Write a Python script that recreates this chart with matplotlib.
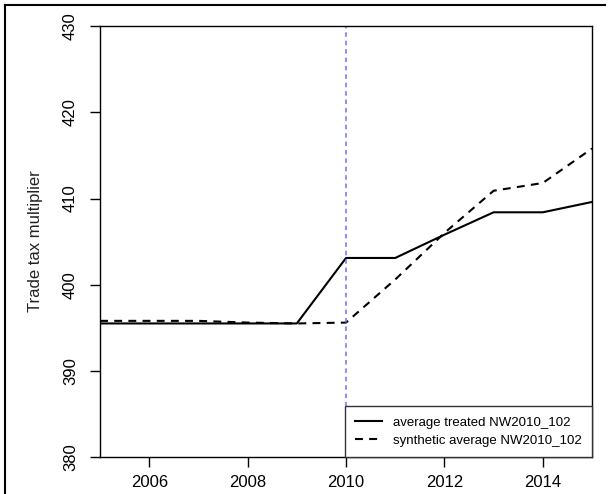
import matplotlib.pyplot as plt
from matplotlib.lines import Line2D

plt.rcParams['font.family'] = ['Liberation Sans', 'DejaVu Sans']

years = [2005, 2006, 2007, 2008, 2009, 2010, 2011, 2012, 2013, 2014, 2015]
treated = [395.5, 395.5, 395.5, 395.5, 395.5, 403.1, 403.1, 405.8, 408.4, 408.4, 409.6]
synthetic = [395.8, 395.8, 395.8, 395.6, 395.5, 395.6, 400.6, 406.0, 410.9, 411.8, 415.8]
treat_year = 2010

fig = plt.figure(figsize=(6.1, 4.94), dpi=100)
ax = fig.add_axes([0.164, 0.0749, 0.8065, 0.8721])

ax.plot(years, treated, color='black', lw=1.5, label='average treated NW2010_102')
ax.plot(years, synthetic, color='black', lw=1.5, dashes=(3.8, 3),
        label='synthetic average NW2010_102')
ax.axvline(treat_year, color='#6f6fff', lw=1.1, dashes=(3, 2.5))

ax.set_xlim(2005, 2015)
ax.set_ylim(380, 430)
ax.set_xticks([2006, 2008, 2010, 2012, 2014])
ax.set_yticks([380, 390, 400, 410, 420, 430])
for s in ax.spines.values():
    s.set_linewidth(1.0)
ax.tick_params(axis='both', direction='out', length=7, width=1, labelsize=12)
ax.tick_params(axis='x', pad=6)
ax.tick_params(axis='y', pad=9)
for lab in ax.get_yticklabels():
    lab.set_rotation(90)
    lab.set_va('center')
ax.set_ylabel('Trade tax multiplier', fontsize=12, color='#222222', labelpad=14)

leg = ax.legend(loc='lower left', bbox_to_anchor=(0.498, 0, 0.502, 0.2),
                mode='expand', borderaxespad=0, fancybox=False,
                fontsize=9.5, handlelength=2.0, handletextpad=0.85,
                borderpad=0.78, labelspacing=0.45, framealpha=1)
leg.get_frame().set_edgecolor('#333333')
leg.get_frame().set_linewidth(1.0)

# screenshot border lines
fig.add_artist(Line2D([5 / 610, 605 / 610], [1 - 5 / 494, 1 - 5 / 494],
                      transform=fig.transFigure, color='black', lw=1.5))
fig.add_artist(Line2D([5 / 610, 5 / 610], [0, 1 - 5 / 494],
                      transform=fig.transFigure, color='black', lw=1.5))

fig.savefig('out.png', dpi=100)
